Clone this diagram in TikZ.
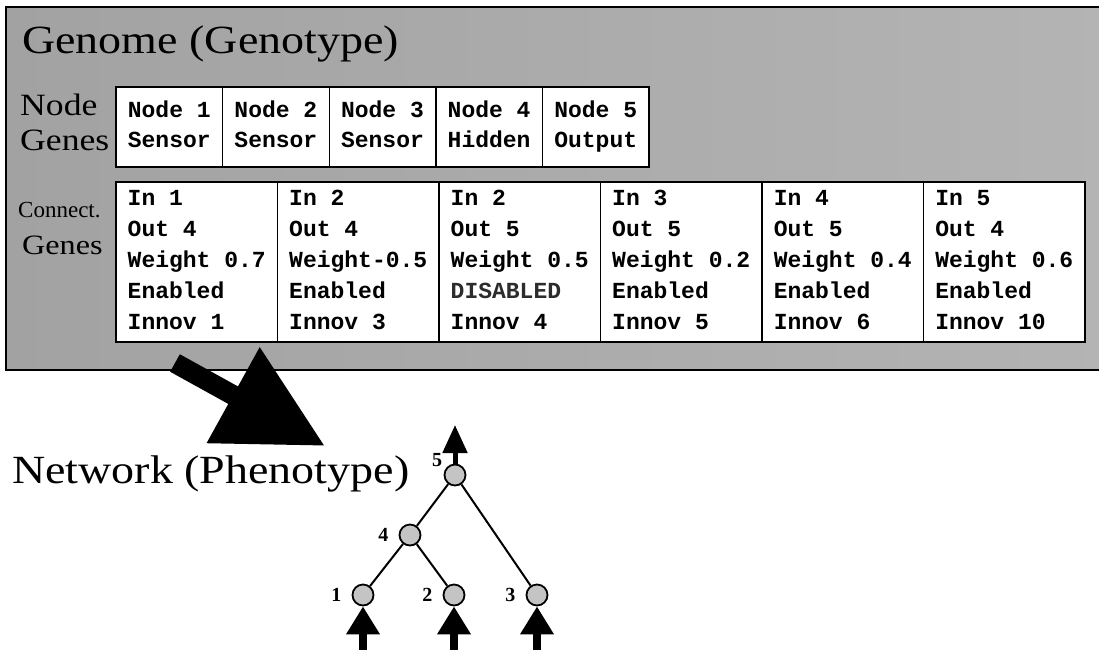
\documentclass[tikz,border=0pt]{standalone}
\usepackage{fontspec}
\setmainfont{Liberation Serif}
\setmonofont{Liberation Mono}
\newfontfamily\stretchserif[FakeStretch=1.15]{Liberation Serif}
\usetikzlibrary{shapes, arrows.meta}
\definecolor{genomedark}{HTML}{A2A2A2}
\definecolor{genomelight}{HTML}{B4B4B4}
\definecolor{neuroncol}{HTML}{C4C4C4}
\definecolor{disabledcol}{HTML}{2C2C2C}
\newcommand{\descender}{\rule[-4.8pt]{0pt}{1pt}}
\tikzstyle{genome} = [draw=black, line width=1.6pt, left color=genomedark, right color=genomelight]
\tikzstyle{heading} = [anchor=base west, inner sep=0pt, font=\stretchserif\fontsize{40}{48}\selectfont]
\tikzstyle{rowlabel} = [anchor=base west, inner sep=0pt]
\tikzstyle{ngene} = [rectangle, draw=black, line width=1.4pt, fill=white, minimum width=106.6pt, minimum height=80pt, align=left, font=\ttfamily\bfseries\fontsize{23}{30}\selectfont, execute at end node=\descender, node distance=106.6pt]
\tikzstyle{cgene} = [rectangle, draw=black, line width=1.4pt, fill=white, minimum width=161.5pt, minimum height=160pt, align=left, font=\ttfamily\bfseries\fontsize{23}{31}\selectfont, execute at end node=\descender, node distance=161.5pt]
\tikzstyle{neuron} = [circle, draw=black, line width=1.8pt, fill=neuroncol, minimum size=21pt, inner sep=0pt, node distance=60pt]
\tikzstyle{numlbl} = [inner sep=1pt, font=\bfseries\fontsize{20}{24}\selectfont]
\tikzstyle{link} = [line width=2pt]
\tikzstyle{inarrow} = [line width=8pt, -{Triangle[length=28pt, width=32pt]}]
\tikzstyle{outarrow} = [line width=5pt, -{Triangle[length=28pt, width=24pt]}]
\tikzstyle{maparrow} = [line width=20pt, -{Triangle[length=105pt, width=104pt]}]

\begin{document}
\begin{tikzpicture}[x=1pt, y=-1pt]
\useasboundingbox (0,0) rectangle (1099,649);

%Genome
\draw [genome] (6,7) rectangle (1112,370);
\node (genome) [heading] at (22,53) {Genome (Genotype)};

%Node Genes
\node (nglabel) [rowlabel, anchor=west, align=left, font=\stretchserif\fontsize{31}{35}\selectfont] at (20,122) {Node\\Genes};
\node (ng1) [ngene] at (169.3,127) {Node 1\\Sensor};
\node (ng2) [ngene, right of=ng1] {Node 2\\Sensor};
\node (ng3) [ngene, right of=ng2] {Node 3\\Sensor};
\node (ng4) [ngene, right of=ng3] {Node 4\\Hidden};
\node (ng5) [ngene, right of=ng4] {Node 5\\Output};

%Connection Genes
\node (cglabel) [rowlabel, font=\fontsize{23}{28}\selectfont] at (18,217) {Connect.};
\node (cggenes) [rowlabel, font=\stretchserif\fontsize{28}{34}\selectfont] at (22,254) {Genes};
\node (cg1) [cgene] at (196.75,262) {In 1\\Out 4\\Weight 0.7\\Enabled\\Innov 1};
\node (cg2) [cgene, right of=cg1] {In 2\\Out 4\\Weight-0.5\\Enabled\\Innov 3};
\node (cg3) [cgene, right of=cg2] {In 2\\Out 5\\Weight 0.5\\{\color{disabledcol}DISABLED}\\Innov 4};
\node (cg4) [cgene, right of=cg3] {In 3\\Out 5\\Weight 0.2\\Enabled\\Innov 5};
\node (cg5) [cgene, right of=cg4] {In 4\\Out 5\\Weight 0.4\\Enabled\\Innov 6};
\node (cg6) [cgene, right of=cg5] {In 5\\Out 4\\Weight 0.6\\Enabled\\Innov 10};

%Network
\node (network) [heading] at (12,483) {Network (Phenotype)};
\node (n5) [neuron, label={[numlbl, label distance=2pt]150:5}] at (455,475) {};
\node (n4) [neuron, below of=n5, xshift=-45pt, label={[numlbl, label distance=9pt]left:4}] {};
\node (n1) [neuron, below of=n4, xshift=-47pt, label={[numlbl, label distance=9pt]left:1}] {};
\node (n2) [neuron, below of=n4, xshift=44pt, label={[numlbl, label distance=9pt]left:2}] {};
\node (n3) [neuron, below of=n4, xshift=127pt, label={[numlbl, label distance=9pt]left:3}] {};

\draw [link] (n5) -- (n4);
\draw [link] (n4) -- (n1);
\draw [link] (n4) -- (n2);
\draw [link] (n5) -- (n3);

%Inputs and output
\coordinate (out5) at (455,425);
\coordinate (in1) at (363,652);
\coordinate (in2) at (454,652);
\coordinate (in3) at (537,652);
\draw [outarrow] (n5) -- (out5);
\draw [inarrow] (in1) -- (n1);
\draw [inarrow] (in2) -- (n2);
\draw [inarrow] (in3) -- (n3);

%Genome to network
\coordinate (gstart) at (175,363);
\coordinate (gtip) at (325,446);
\draw [maparrow] (gstart) -- (gtip);
\end{tikzpicture}
\end{document}
